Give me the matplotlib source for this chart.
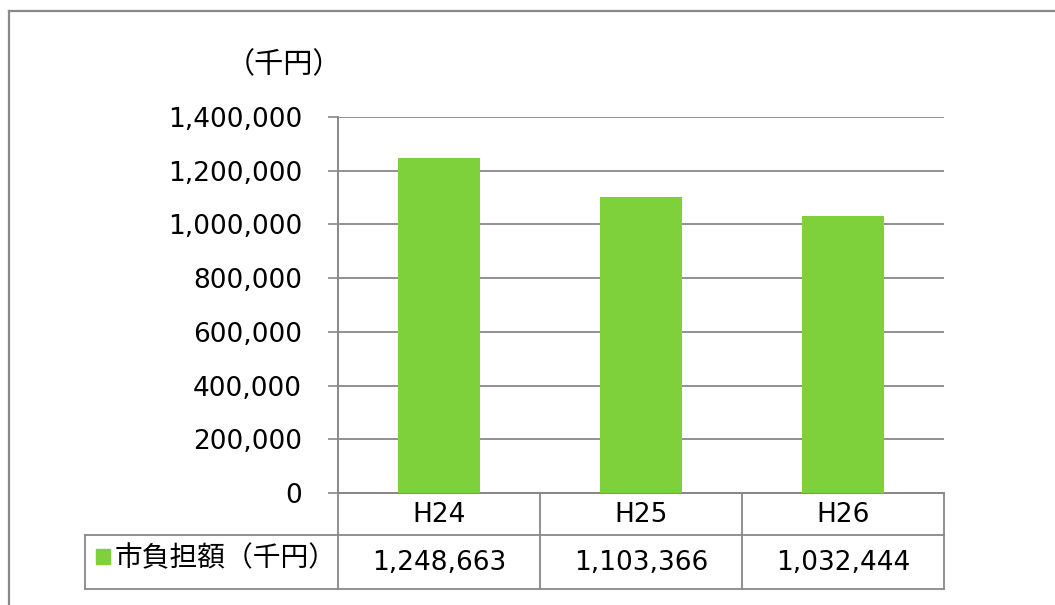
import matplotlib
matplotlib.use("Agg")
import matplotlib.pyplot as plt
from matplotlib.lines import Line2D
from matplotlib.patches import Rectangle

categories = ["H24", "H25", "H26"]
values = [1248663, 1103366, 1032444]
series_name = "市負担額（千円）"
unit_label = "（千円）"
yticks = [0, 200000, 400000, 600000, 800000, 1000000, 1200000, 1400000]

W, H = 1055, 605
plt.rcParams['font.family'] = ['DejaVu Sans', 'Noto Sans CJK JP']
fig = plt.figure(figsize=(W / 100, H / 100), dpi=100)

def fx(px):
    return px / W

def fy(py):
    return 1 - py / H

GRAY = "#888888"
GREEN = "#7FD13B"

# figure border
fig.add_artist(Line2D([fx(9), fx(9)], [fy(11), fy(605)], color=GRAY, lw=1.6))
fig.add_artist(Line2D([fx(9), fx(1055)], [fy(11), fy(11)], color=GRAY, lw=1.6))

ax_l, ax_r, ax_t, ax_b = 338, 944, 117, 493
ax = fig.add_axes([fx(ax_l), fy(ax_b), fx(ax_r) - fx(ax_l), fy(ax_t) - fy(ax_b)])
x = list(range(len(categories)))
ax.bar(x, values, width=0.405, color=GREEN, zorder=3)
ax.set_xlim(-0.5, len(categories) - 0.5)
ax.set_ylim(0, 1400000)
ax.set_yticks(yticks)
ax.set_yticklabels([f"{v:,}" for v in yticks], fontsize=19)
ax.tick_params(axis='y', length=7, width=1.2, color=GRAY, pad=19)
ax.tick_params(axis='x', bottom=False, labelbottom=False)
ax.grid(axis='y', color=GRAY, lw=1.3, zorder=0)
for s in ['top', 'right']:
    ax.spines[s].set_visible(False)
ax.spines['left'].set_color(GRAY)
ax.spines['left'].set_linewidth(1.4)
ax.spines['bottom'].set_color(GRAY)
ax.spines['bottom'].set_linewidth(1.4)

# unit label
fig.text(fx(284), fy(65), unit_label, fontsize=21, ha='center', va='center',
         family=['Noto Sans CJK JP'])

# data table
col_edges = [338, 540, 742, 944]
r0, r1, r2 = 493, 535, 589
lw = 1.3
for xe in col_edges:
    fig.add_artist(Line2D([fx(xe), fx(xe)], [fy(r0), fy(r2)], color=GRAY, lw=lw))
fig.add_artist(Line2D([fx(85), fx(944)], [fy(r1), fy(r1)], color=GRAY, lw=lw))
fig.add_artist(Line2D([fx(85), fx(944)], [fy(r2), fy(r2)], color=GRAY, lw=lw))
fig.add_artist(Line2D([fx(85), fx(85)], [fy(r1), fy(r2)], color=GRAY, lw=lw))

for i, (c, v) in enumerate(zip(categories, values)):
    cx = (col_edges[i] + col_edges[i + 1]) / 2
    fig.text(fx(cx), fy((r0 + r1) / 2 + 1), c, fontsize=19, ha='center', va='center')
    fig.text(fx(cx), fy((r1 + r2) / 2 + 1), f"{v:,}", fontsize=19, ha='center', va='center')

fig.add_artist(Rectangle((fx(96), fy(564)), fx(14), fy(549) - fy(564), color=GREEN))
fig.text(fx(115), fy(558), series_name, fontsize=20, ha='left', va='center',
         family=['Noto Sans CJK JP'])

fig.savefig("out.png", dpi=100)
